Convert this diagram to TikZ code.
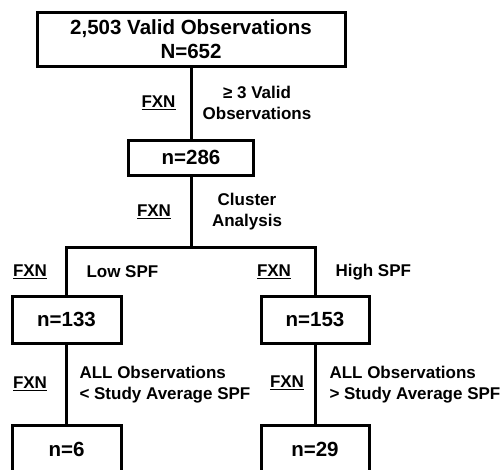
\documentclass[tikz,border=0pt]{standalone}
\usepackage{fontspec}
\setmainfont{Liberation Sans}

\begin{document}
\begin{tikzpicture}[x=1pt, y=-1pt, line width=3pt]
  % -----------------------------
  % STYLES
  % -----------------------------
  \tikzset{
    box/.style={draw, rectangle, inner sep=0pt, align=center,
      font=\fontsize{20.5}{24}\selectfont\bfseries},
    lab/.style={inner sep=0pt, font=\fontsize{17}{21}\selectfont\bfseries},
    fxn/.style={lab},
  }

  % canvas (the bottom boxes run off the page)
  \clip (0,0) rectangle (501,469);

  % -----------------------------
  % BOXES
  % -----------------------------
  \node[box, minimum width=308pt, minimum height=54pt] (all) at (191,39)
    {2,503 Valid Observations\\N=652};
  \node[box, minimum width=125pt, minimum height=35pt] (valid) at (191,157.5) {n=286};
  \node[box, minimum width=109pt, minimum height=47pt] (low)  at (66.5,319.5) {n=133};
  \node[box, minimum width=108pt, minimum height=47pt] (high) at (315,319.5) {n=153};
  \node[box, minimum width=109pt, minimum height=48pt] (lowall)  at (66.5,449) {n=6};
  \node[box, minimum width=108pt, minimum height=48pt] (highall) at (315,449) {n=29};

  % -----------------------------
  % CONNECTORS
  % -----------------------------
  \coordinate (split) at (191,247);
  \draw (all) -- (valid);
  \draw (valid) -- (split);
  \draw (low.north) |- (split) -| (high.north);
  \draw (low) -- (lowall);
  \draw (high) -- (highall);

  % -----------------------------
  % LABELS
  % -----------------------------
  \node[fxn] (f1) at (158.5,103) {\underline{FXN}};
  \node[lab, align=center] (l1) at (257,102.5) {≥ 3 Valid\\Observations};

  \node[fxn] (f2) at (154,212) {\underline{FXN}};
  \node[lab, align=center] (l2) at (247,212) {Cluster\\Analysis};

  \node[fxn] (f3) at (30,272) {\underline{FXN}};
  \node[lab, anchor=west] (l3) at (85,272) {Low SPF};
  \node[fxn] (f4) at (274,272) {\underline{FXN}};
  \node[lab, anchor=west] (l4) at (334,272) {High SPF};

  \node[fxn] (f5) at (30,384) {\underline{FXN}};
  \node[lab, anchor=west, align=left] (l5) at (78,384.5)
    {ALL Observations\\< Study Average SPF};
  \node[fxn] (f6) at (287,383) {\underline{FXN}};
  \node[lab, anchor=west, align=left] (l6) at (328,384.5)
    {ALL Observations\\> Study Average SPF};
\end{tikzpicture}
\end{document}
